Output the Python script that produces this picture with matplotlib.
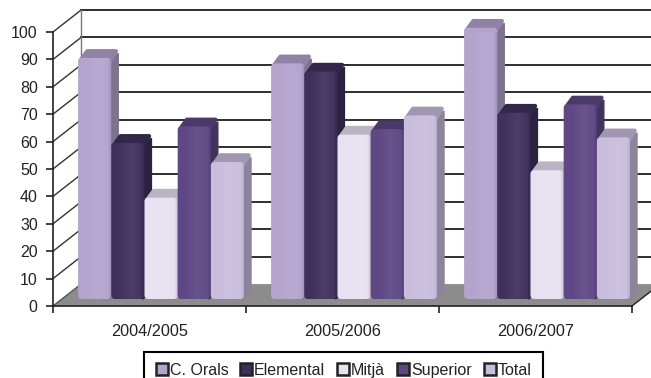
import matplotlib
matplotlib.use('Agg')
import matplotlib.pyplot as plt
from matplotlib.colors import to_rgb
from matplotlib.lines import Line2D
from matplotlib.patches import FancyBboxPatch
import numpy as np

plt.rcParams['font.family'] = ['Liberation Sans', 'DejaVu Sans']

# Dades
years = ['2004/2005', '2005/2006', '2006/2007']
levels = ['C. Orals', 'Elemental', 'Mitjà', 'Superior', 'Total']
orals = [88, 86, 99]
elemental = [57, 83, 68]
mitja = [37, 60, 47]
superior = [63, 62, 71]
total = [50, 67, 59]
series = [orals, elemental, mitja, superior, total]
colors = ['#b3a3cd', '#3f2f5c', '#e7e1f1', '#5e4784', '#c9bddd']

# 3D fake: wall is shifted from the axes by depth
depth_x = 28 / 193
depth_y = 8
right_end = 3.1
bar_w = 0.172
bar_start = 0.13
bar_dx = 0.036
bar_dy = 2.55
px_aspect = 193 / 2.74

fig = plt.figure(figsize=(6.51, 3.78), dpi=100)
ax = fig.add_axes([53 / 651, 72 / 378, 579 / 651, 274 / 378])

# floor
ax.fill([0, depth_x, right_end, right_end, 3],
        [0, depth_y, depth_y, 5.4, 0], color='#8c8c8c', lw=0, zorder=1, clip_on=False)

# walls and grid
for v in range(0, 101, 10):
    if v > 0:
        ax.plot([depth_x, right_end], [v + depth_y, v + depth_y], color='#2e2e2e', lw=1.4,
                zorder=2, clip_on=False)
        ax.plot([0, depth_x], [v, v + depth_y], color='#333333', lw=1, zorder=2, clip_on=False)
ax.plot([depth_x, depth_x], [depth_y, 100 + depth_y], color='#777777', lw=1, zorder=2, clip_on=False)
ax.plot([0, depth_x], [0, depth_y], color='#555555', lw=1, zorder=2, clip_on=False)
ax.plot([3, 3 + 19 / 193], [0, 5.4], color='#222222', lw=1, zorder=2, clip_on=False)

# shading across a bar face
xs = np.linspace(0, 1, 40)
light = np.clip(1 - np.abs(xs - 0.6) / 0.45, 0, 1)
edge = np.clip((xs - 0.9) / 0.1, 0, 1)
shade = np.zeros((1, 40, 4))
shade[0, :, :3] = np.where(edge[:, None] > 0, 0, 1)
shade[0, :, 3] = np.where(edge > 0, 0.12 * edge, 0.07 * light)

z = 3
for i in range(len(years)):
    for j, vals in enumerate(series):
        left = i + bar_start + j * bar_w
        right = left + bar_w
        top = bar_dy + vals[i]
        rgb = np.array(to_rgb(colors[j]))
        side_c = rgb * 0.7
        top_c = rgb * 0.8
        ax.fill([right - 0.01, right + bar_dx, right + bar_dx, right - 0.01],
                [bar_dy, 2 * bar_dy, top + bar_dy - 1, top],
                color=side_c, lw=1, joinstyle='round', zorder=z, clip_on=False)
        ax.fill([left + 0.012, left + bar_dx + 0.012, right + bar_dx - 0.012, right - 0.006],
                [top - 1, top + bar_dy - 0.1, top + bar_dy - 0.1, top - 1],
                color=top_c, ec=top_c, lw=3, joinstyle='round', zorder=z, clip_on=False)
        face = FancyBboxPatch((left, bar_dy), bar_w, vals[i],
                              boxstyle='round,pad=0,rounding_size=0.02',
                              mutation_aspect=px_aspect, fc=colors[j], lw=0,
                              zorder=z + 1, clip_on=False)
        ax.add_patch(face)
        im = ax.imshow(shade, extent=[left, right, bar_dy, top], aspect='auto',
                       zorder=z + 1.5, interpolation='bilinear', clip_on=True)
        im.set_clip_path(face)
        z += 2

ax.set_xlim(0, 3)
ax.set_ylim(0, 100)
ax.set_xticks([0, 1, 2, 3])
ax.set_xticklabels([])
ax.set_xticks([0.5, 1.5, 2.5], labels=years, minor=True)
ax.set_yticks(range(0, 101, 10))
ax.tick_params(axis='x', which='major', length=5, width=1.2, color='#222222')
ax.tick_params(axis='x', which='minor', length=0, pad=13, labelsize=11.7, labelcolor='#222222')
ax.tick_params(axis='y', length=5, width=1.2, color='#222222', pad=6, labelsize=11.5, labelcolor='#222222')
for s in ['top', 'right']:
    ax.spines[s].set_visible(False)
for s in ['left', 'bottom']:
    ax.spines[s].set_linewidth(1.2)
    ax.spines[s].set_color('#222222')
    ax.spines[s].set_zorder(50)

handles = [Line2D([], [], ls='', marker='s', ms=8, mfc=c, mec='#222222', mew=1.8) for c in colors]
leg = fig.legend(handles, levels, loc='lower left', bbox_to_anchor=(144 / 651, -11 / 378),
                 ncol=5, fontsize=11.5, frameon=True, fancybox=False, edgecolor='black',
                 framealpha=1, handlelength=0.8, handletextpad=0.1, columnspacing=0.72,
                 labelcolor='#222222', borderpad=0.7, borderaxespad=0)
leg.get_frame().set_linewidth(1.5)

fig.savefig('out.png', dpi=100)
